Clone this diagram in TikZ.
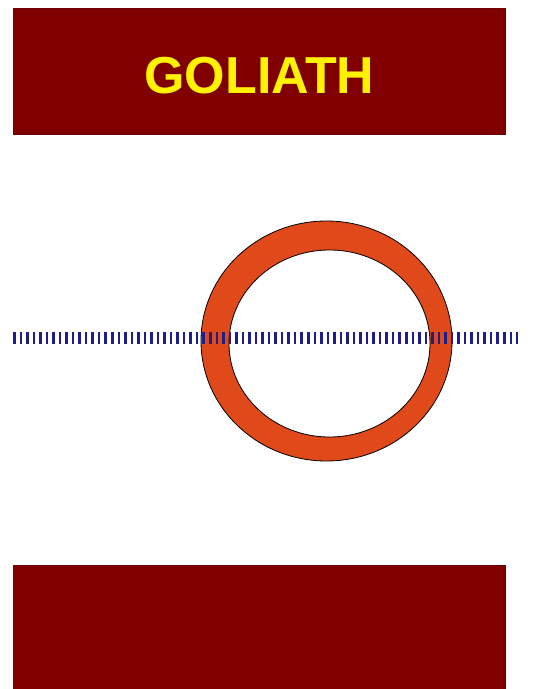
\documentclass[tikz,border=0pt]{standalone}
\usepackage{fontspec}
\setmainfont{Liberation Sans}
\usetikzlibrary{positioning}
\usepackage{xcolor}
\definecolor{maroon2}{HTML}{800000}
\definecolor{ringred}{HTML}{E04A1A}
\definecolor{navy2}{HTML}{1E1E8A}

\begin{document}
\begin{tikzpicture}[x=0.75pt,y=-0.75pt,
  banner/.style={fill=maroon2, draw=maroon2!85!black, line width=0.6pt, minimum width=369pt, inner sep=0pt, anchor=north west},
  titletext/.style={font=\bfseries\fontsize{39}{39}\selectfont, text=yellow, inner sep=0pt},
  hatch/.style={navy2, line width=9pt, dash pattern=on 1.9pt off 3pt}]
\useasboundingbox (0,0) rectangle (551,689);
% banners
\node[banner, minimum height=94.5pt] (top) at (13,8) {};
\node[banner, minimum height=93pt] (bottom) at (13,565) {};
\node[titletext] (title) at ([yshift=-3pt]top.center) {GOLIATH};
% ring
\draw[fill=ringred, even odd rule, draw=black, line width=0.6pt]
  (326.5,341) ellipse [x radius=125.5, y radius=120]
  (329.5,343.5) ellipse [x radius=100.5, y radius=93.5];
% axis
\coordinate (axisL) at (13,338);
\coordinate (axisR) at (518,338);
\draw[hatch] (axisL) -- (axisR);
\end{tikzpicture}
\end{document}
